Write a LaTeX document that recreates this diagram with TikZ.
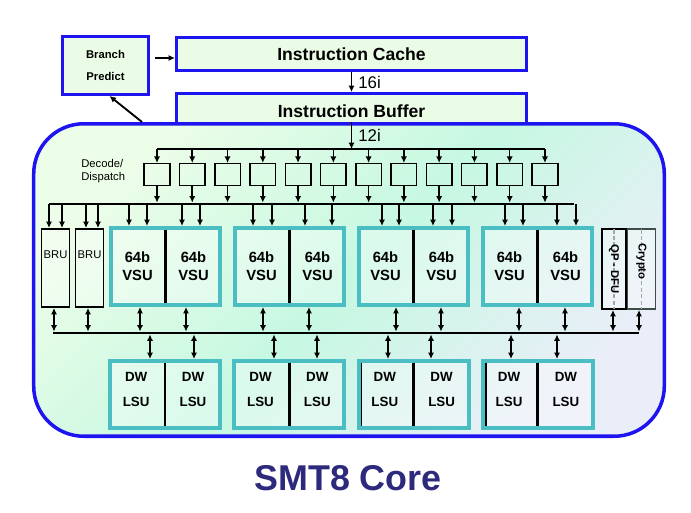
\documentclass[tikz,border=0pt]{standalone}
\usepackage{fontspec}
\setmainfont{Liberation Sans}
\usetikzlibrary{arrows.meta}
\definecolor{coreblue}{RGB}{30,20,240}
\definecolor{boxgreen}{RGB}{234,252,230}
\definecolor{unitteal}{RGB}{75,190,195}
\definecolor{coreleft}{RGB}{236,253,232}
\definecolor{coremid}{RGB}{198,248,226}
\definecolor{coreright}{RGB}{234,238,248}
\definecolor{titlenavy}{RGB}{45,42,125}
\definecolor{cryptogrey}{RGB}{60,78,72}
\tikzset{
  fbox/.style={draw=coreblue,line width=2.1pt,fill=boxgreen,inner sep=0pt,font=\bfseries\fontsize{12.5}{14}\selectfont},
  corebox/.style={draw=coreblue,line width=2.5pt,rounded corners=1.25cm,left color=coreleft,right color=coreright,middle color=coremid,shading angle=45,minimum width=15.76cm,minimum height=7.81cm},
  dbox/.style={draw,line width=1.1pt,minimum width=0.64cm,minimum height=0.54cm,inner sep=0pt},
  ubox/.style={draw,line width=1.1pt,fill=white,fill opacity=0.35,text opacity=1,minimum height=1.96cm,inner sep=0pt},
  vgrp/.style={draw=unitteal,line width=2.85pt,fill=white,fill opacity=0.35,text opacity=1,minimum width=2.725cm,minimum height=1.925cm},
  lgrp/.style={vgrp,minimum width=2.75cm,minimum height=1.675cm},
  divider/.style={line width=2.1pt,shorten <=0.1cm,shorten >=0.1cm},
  arr/.style={line width=1.1pt,-{Latex[length=4.6pt,width=4.4pt]}},
  darr/.style={line width=1.1pt,{Latex[length=4.6pt,width=4.4pt]}-{Latex[length=4.6pt,width=4.4pt]}},
  bus/.style={line width=2.1pt},
  utxt/.style={font=\bfseries\fontsize{10.5}{12.8}\selectfont,align=center,inner sep=0pt},
  ltxt/.style={font=\bfseries\fontsize{9.5}{17.4}\selectfont,align=center,inner sep=0pt},
  slab/.style={font=\fontsize{8}{9.2}\selectfont,inner sep=0pt},
  rlab/.style={font=\bfseries\fontsize{8}{9}\selectfont,rotate=-90,inner sep=0pt},
  wlab/.style={font=\fontsize{12}{14}\selectfont,inner sep=0pt}
}
\begin{document}
\begin{tikzpicture}[x=0.025cm,y=-0.025cm]
\useasboundingbox (0,0) rectangle (691,513);
% fetch stage
\node[fbox,minimum width=2.15cm,minimum height=1.45cm,align=center,font=\bfseries\fontsize{8}{15.5}\selectfont] (bp) at (105.5,65.5) {Branch\\Predict};
\node[fbox,minimum width=8.75cm,minimum height=0.825cm] (cache) at (351.5,54) {Instruction Cache};
\node[fbox,minimum width=8.75cm,minimum height=0.875cm] (buf) at (351.5,111) {Instruction Buffer};
\node[corebox] (core) at (349,280) {};
\coordinate (bpout) at (151,58);
\draw[arr,shorten <=3pt] (bpout) -- (bpout -| cache.west);
\draw[arr,line width=1.3pt] ([xshift=2.75cm]core.north west) -- ([xshift=0.1cm]bp.south);
\draw[arr] (cache.south) -- node[wlab,right,xshift=0.15cm] {16i} (buf.north);
\coordinate (ibus) at (0,149);
\draw[arr] (buf.south |- core.north) -- node[wlab,right,xshift=0.15cm] {12i} (buf.south |- ibus);
% decode / dispatch
\node[slab,anchor=west,align=left] (declab) at (81,171.5) {Decode/\\Dispatch};
\foreach \i in {1,...,12}
  \node[dbox] (dec\i) at ({157+35.27*(\i-1)},174.5) {};
\draw[line width=1.1pt] (dec1.north |- ibus) -- (dec12.north |- ibus);
\coordinate (dbusL) at (49,204);
\coordinate (dbusR) at (574,204);
\draw[bus] (dbusL) -- (dbusR);
\foreach \i in {1,...,12} {
  \draw[arr] (dec\i.north |- ibus) -- (dec\i.north);
  \draw[arr,shorten >=1pt] (dec\i.south) -- (dec\i.south |- dbusL);
}
% execution units
\node[ubox,minimum width=0.69cm] (bru1) at (55.5,268) {};
\node[ubox,minimum width=0.69cm] (bru2) at (89.5,268) {};
\node[slab] (brut1) at ([yshift=0.325cm]bru1.center) {BRU};
\node[slab] (brut2) at ([yshift=0.325cm]bru2.center) {BRU};
\foreach \i/\x in {1/165.5,2/289.5,3/413.5,4/537.5} {
  \node[vgrp] (vg\i) at (\x,266.5) {};
  \draw[divider] (vg\i.north) -- (vg\i.south);
  \node[utxt] (vl\i) at ([xshift=-0.7cm]vg\i.center) {64b\\VSU};
  \node[utxt] (vr\i) at ([xshift=0.7cm]vg\i.center) {64b\\VSU};
}
\node[ubox,minimum width=0.61cm,minimum height=2.01cm] (qp) at (614,269) {};
\node[ubox,draw=cryptogrey,minimum width=0.69cm,minimum height=2.01cm] (crypto) at (641.5,269) {};
\foreach \n in {qp,crypto}
  \draw[gray!70,line width=0.8pt,dash pattern=on 3pt off 1.6pt,shorten <=1pt,shorten >=1pt] (\n.north) -- (\n.south);
\node[rlab] (qpt) at (qp.center) {QP - DFU};
\node[rlab] (cryt) at ([yshift=0.19cm]crypto.center) {Crypto};
\foreach \x/\n in {49/bru1,62/bru1,86/bru2,98/bru2,129/vg1,147/vg1,182/vg1,200/vg1,253/vg2,272/vg2,305/vg2,332/vg2,382/vg3,399/vg3,433/vg3,452/vg3,505/vg4,523/vg4,557/vg4,576/vg4}
  \draw[arr] (\x,0 |- dbusL) -- (\x,0 |- \n.north);
% result bus and load/store units
\coordinate (lbusL) at (53,333);
\coordinate (lbusR) at (639,333);
\draw[bus] (lbusL) -- (lbusR);
\foreach \x/\n in {54/bru1,88/bru2,140/vg1,186/vg1,263/vg2,309/vg2,396/vg3,441/vg3,519/vg4,565/vg4,613/qp,639/crypto}
  \draw[darr,shorten <=1pt] (\x,0 |- lbusL) -- (\x,0 |- \n.south);
\foreach \i/\x in {1/165,2/289.3,3/413.6,4/537.9} {
  \node[lgrp] (lg\i) at (\x,394.5) {};
  \draw[divider] (lg\i.north) -- (lg\i.south);
  \node[ltxt] (ll\i) at ([xshift=-0.72cm,yshift=0.12cm]lg\i.center) {DW\\LSU};
  \node[ltxt] (lr\i) at ([xshift=0.7cm,yshift=0.12cm]lg\i.center) {DW\\LSU};
}
\foreach \n in {lg3,lg4}
  \draw[line width=1.1pt,shorten <=0.1cm,shorten >=0.1cm] ([xshift=0.125cm]\n.north west) -- ([xshift=0.125cm]\n.south west);
\foreach \x/\n in {150/lg1,194/lg1,274/lg2,317/lg2,388/lg3,431/lg3,511/lg4,557/lg4}
  \draw[darr,shorten <=1pt] (\x,0 |- lbusL) -- (\x,0 |- \n.north);
\node[font=\bfseries\fontsize{25.5}{30}\selectfont,text=titlenavy,inner sep=0pt] (title) at (348,478) {SMT8 Core};
\end{tikzpicture}
\end{document}
